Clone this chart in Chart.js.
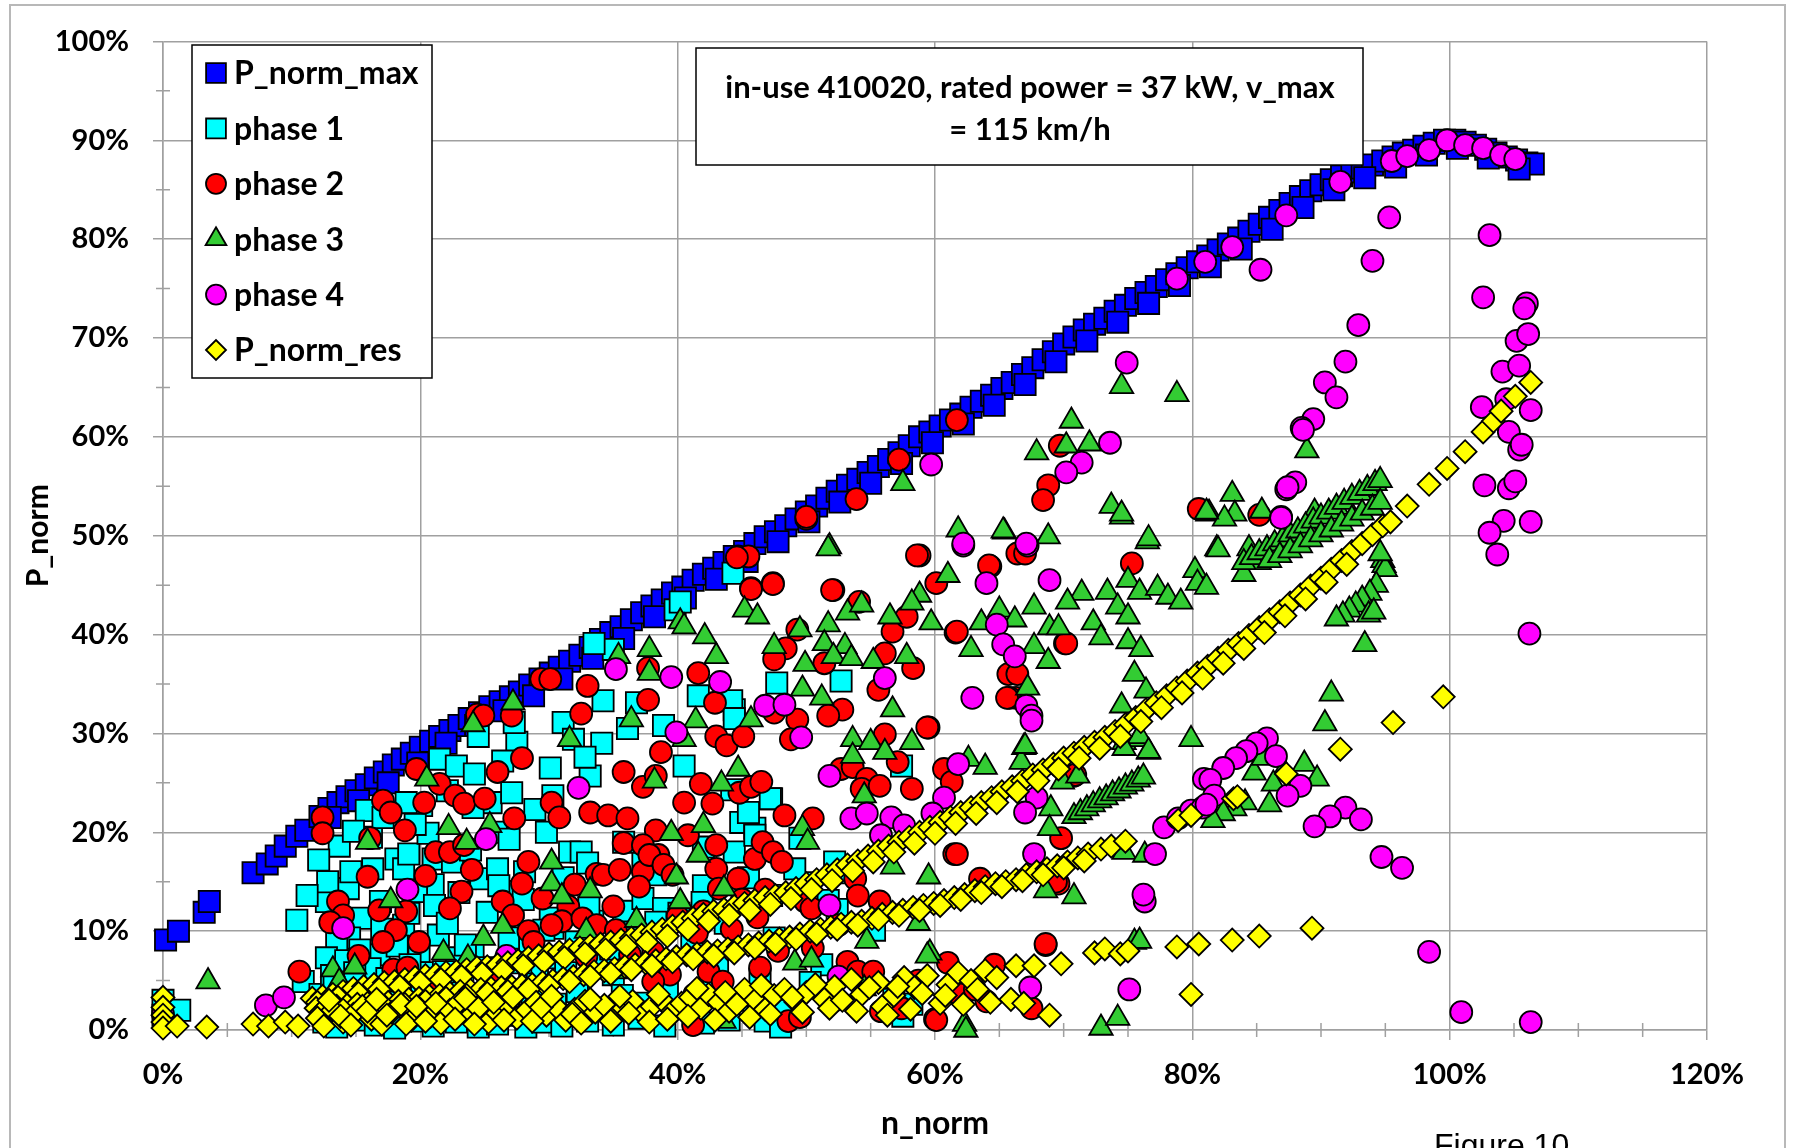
<!DOCTYPE html>
<html>
<head>
<meta charset="utf-8">
<script src="https://cdn.jsdelivr.net/npm/chart.js@4.4.1/dist/chart.umd.min.js"></script>
<style>
  body { margin: 0; background: #fff; }
  canvas { display: block; }
</style>
</head>
<body>
<canvas id="grafico" width="1793" height="1148"></canvas>
<script>
// Series de puntos [n_norm %, P_norm %]
const pNormMax = [
  [0.2,9.1],[1.2,10.0],[3.2,11.9],[3.6,13.0],[7.0,15.9],[8.1,16.8],[8.8,17.6],[9.5,18.6],[10.4,19.6],[11.1,20.2],
  [12.2,21.6],[12.9,22.4],[13.6,23.0],[14.3,23.6],[15.0,24.2],[15.8,24.8],[16.5,25.5],[17.2,26.1],[17.9,26.8],[18.6,27.4],
  [19.3,28.0],[20.0,28.6],[20.8,29.2],[21.5,29.7],[22.3,30.3],[23.0,30.8],[23.8,31.5],[24.6,32.1],[25.4,32.7],[26.2,33.2],
  [27.0,33.7],[27.7,34.2],[28.5,34.9],[29.3,35.5],[30.1,36.1],[30.8,36.7],[31.6,37.3],[32.4,37.9],[33.2,38.7],[34.0,39.5],
  [34.8,40.2],[35.6,40.8],[36.4,41.5],[37.2,42.2],[38.0,42.9],[38.8,43.5],[39.6,44.2],[40.4,44.8],[41.2,45.5],[42.0,46.1],
  [42.8,46.7],[43.6,47.3],[44.4,47.9],[45.2,48.4],[46.0,49.2],[46.8,49.9],[47.6,50.4],[48.4,51.0],[49.2,51.7],[50.0,52.4],
  [50.8,53.0],[51.6,53.8],[52.4,54.5],[53.2,55.1],[54.0,55.7],[54.8,56.4],[55.6,57.0],[56.4,57.7],[57.2,58.4],[58.0,59.1],
  [58.8,60.0],[59.6,60.5],[60.4,61.1],[61.2,61.7],[62.0,62.3],[62.8,63.0],[63.6,63.6],[64.4,64.2],[65.2,64.9],[66.0,65.5],
  [66.8,66.3],[67.6,67.0],[68.4,67.8],[69.2,68.6],[70.0,69.4],[70.8,70.1],[71.6,70.8],[72.4,71.4],[73.2,72.0],[74.0,72.7],
  [74.8,73.3],[75.6,74.0],[76.4,74.6],[77.2,75.2],[78.0,75.9],[78.8,76.5],[79.6,77.1],[80.4,77.7],[81.2,78.3],[82.0,78.9],
  [82.8,79.5],[83.6,80.1],[84.4,80.8],[85.2,81.5],[86.0,82.2],[86.8,82.9],[87.6,83.6],[88.4,84.3],[89.2,84.9],[90.0,85.5],
  [90.8,86.0],[91.6,86.4],[92.4,86.8],[93.2,87.2],[94.0,87.5],[94.8,87.9],[95.6,88.3],[96.4,88.7],[97.2,89.0],[98.0,89.4],
  [98.8,89.7],[99.6,90.0],[100.4,90.0],[101.2,89.8],[102.0,89.5],[102.8,89.1],[103.6,88.7],[104.4,88.3],[105.2,88.0],[106.0,87.7],
  [106.5,87.6],
  [13.0,21.5],[15.2,23.2],[17.5,25.0],[19.8,27.0],[22.0,29.0],[24.3,30.8],[26.5,32.3],[28.8,33.8],[31.0,35.5],[33.4,37.6],
  [35.8,39.6],[38.2,41.8],[40.6,43.7],[43.0,45.6],[45.4,47.4],[47.8,49.4],[50.2,51.4],[52.6,53.4],[55.0,55.3],[57.4,57.3],
  [59.8,59.4],[62.2,61.3],[64.6,63.2],[67.0,65.3],[69.4,67.6],[71.8,69.7],[74.2,71.6],[76.6,73.5],[79.0,75.3],[81.4,77.2],
  [83.8,79.0],[86.2,81.0],[88.6,83.2],[91.0,85.0],[93.4,86.2],[95.8,87.3],[98.2,88.5],[100.6,89.2],[103.0,88.2],[105.4,87.1]
];

const fase1 = [
  [39.8,42.5],[35.0,38.5],[36.8,33.1],[34.2,33.3],[31.1,31.1],[31.9,29.4],[38.9,30.8],[33.2,25.7],[30.3,23.7],[27.5,29.1],
  [27.3,31.1],[24.5,29.7],[21.5,27.4],[22.8,26.7],[24.2,25.9],[20.1,22.7],[15.8,22.2],[18.9,23.0],[25.5,23.0],[25.9,20.0],
  [26.9,19.3],[29.8,20.0],[31.6,18.0],[32.5,18.0],[18.1,17.3],[16.3,16.3],[18.7,16.3],[21.0,17.3],[22.5,17.0],[24.7,15.3],
  [26.0,16.3],[26.7,14.0],[28.1,16.0],[21.0,14.7],[19.7,14.0],[14.4,14.3],[12.7,13.0],[10.4,11.1],[15.5,11.3],[14.5,9.3],
  [13.5,8.9],[12.7,7.3],[18.7,10.6],[21.4,9.6],[16.8,7.6],[19.9,7.9],[22.8,7.3],[26.9,9.3],[28.5,8.3],[30.3,10.3],
  [30.1,11.3],[33.4,11.0],[35.8,12.0],[37.3,13.3],[38.9,12.3],[37.3,17.0],[35.8,19.0],[38.3,15.7],[10.9,4.9],[12.2,3.6],
  [15.5,4.2],[18.1,4.9],[23.3,4.9],[28.5,4.6],[35.0,5.6],[38.3,6.3],
  [44.3,46.2],[47.7,35.1],[52.7,35.3],[41.6,33.8],[44.4,32.4],[40.5,26.7],[47.3,23.4],[44.9,21.0],[46.0,20.4],[44.4,18.0],
  [42.0,14.6],[57.4,26.7],[47.5,9.3],[41.1,9.3],[52.2,17.0],[51.2,6.6],[46.8,0.9],[58.2,2.6],[43.1,6.3],
  [40.2,43.3],[33.5,39.1],[44.2,33.3],[44.4,31.5],[47.2,23.4],[49.5,19.4],[50.0,14.9],[51.7,13.1],[52.4,12.2],[44.2,24.3],
  [45.5,22.0],[46.0,19.7],[42.0,18.5],
  [13.1,5.5],[14.2,7.0],[15.3,8.1],[16.1,6.2],[17.0,10.2],[18.2,8.5],[19.1,11.8],[20.2,5.8],[21.1,12.6],[22.1,10.8],
  [23.0,13.9],[24.1,8.2],[25.2,11.9],[26.1,14.6],[27.2,12.4],[28.0,13.2],[29.1,5.9],[30.2,7.3],[31.1,15.4],[32.1,8.9],
  [33.0,16.9],[34.1,6.8],[16.2,19.5],[17.1,21.5],[24.1,22.5],[27.1,24.0],[30.1,26.5],[34.1,29.0],[36.1,30.5],[22.1,24.2],
  [19.1,17.8],[14.6,16.0],[13.7,18.6],[12.8,15.0],
  [12.4,2.5],[13.3,4.4],[14.1,2.1],[14.9,5.8],[15.8,3.3],[16.6,1.7],[17.4,5.2],[18.3,2.8],[19.2,6.6],[20.1,3.6],
  [20.9,1.8],[21.8,5.9],[22.6,3.1],[23.5,8.6],[24.4,2.4],[25.2,6.3],[26.1,4.0],[26.9,1.9],[27.8,6.8],[28.7,3.3],
  [29.6,10.1],[30.5,2.6],[31.3,5.8],[32.2,3.9],[33.1,12.4],[33.9,2.2],[34.8,8.2],[35.7,3.5],[36.6,9.9],[37.4,2.7],
  [38.3,10.9],[39.2,3.8],[40.1,11.8],[41.0,2.4],[41.9,12.9],[42.8,4.1],[43.7,10.8],[44.6,3.0],[45.5,15.4],[46.4,5.1],
  [47.3,13.6],[48.2,2.0],[49.1,16.3],[50.3,4.8],[53.4,15.9],[55.3,10.1],[56.8,3.1],[16.9,13.0],[20.6,19.9],[23.9,18.2],
  [28.9,22.3],[32.8,27.6],[26.4,27.2],[19.6,20.8],[14.8,20.1],[12.1,17.2],[11.2,13.6],
  [0.0,3.0],[0.0,1.5],[1.3,2.0],[12.5,0.8],[13.5,0.3],[15.0,1.0],[16.5,0.5],[18.0,0.2],[19.5,0.9],[21.0,0.4],
  [22.8,0.8],[24.5,0.3],[26.0,0.6],[27.7,1.5],[28.2,0.3],[29.5,0.8],[31.0,0.4],[33.0,0.9],[35.0,0.5],[37.0,1.2],
  [39.0,0.4],[42.0,0.7],[44.0,1.0],[48.0,0.3],[57.5,1.4]
];

const fase2 = [
  [29.4,35.5],[30.1,35.5],[33.0,34.8],[37.7,36.6],[37.7,33.4],[32.5,32.0],[27.1,31.8],[24.4,31.9],[24.9,31.8],[27.9,27.5],
  [26.0,26.1],[19.7,26.4],[21.5,24.9],[22.7,23.7],[23.4,22.9],[25.0,23.4],[20.3,23.0],[17.1,23.2],[17.7,22.0],[18.8,20.2],
  [12.4,21.5],[12.4,19.9],[16.1,19.4],[21.2,18.0],[22.3,18.0],[23.4,18.7],[27.3,21.4],[30.2,23.0],[30.8,21.5],[33.2,22.0],
  [34.6,21.7],[36.1,21.4],[35.8,26.1],[37.3,24.6],[38.7,28.1],[38.3,25.7],[38.3,20.2],[35.8,18.9],[37.3,18.7],[38.5,17.7],
  [28.4,17.0],[27.9,14.8],[26.4,13.0],[27.2,11.6],[23.2,14.0],[22.3,12.3],[18.9,12.0],[16.8,12.1],[15.9,15.5],[13.6,13.0],
  [14.0,11.6],[18.1,10.1],[17.1,8.9],[19.9,8.9],[32.0,14.7],[33.7,15.8],[34.2,15.7],[35.5,16.2],[37.3,16.0],[37.0,14.5],
  [37.8,17.7],[38.9,16.7],[39.6,15.7],[35.0,12.5],[31.5,12.5],[31.0,11.0],[30.2,10.6],[32.6,11.3],[33.7,10.6],[28.4,10.0],
  [28.8,8.9],[35.2,10.1],[38.1,7.9],[39.4,5.6],[38.1,4.9],[10.6,5.9],[17.9,6.1],[19.0,6.3],[33.4,1.9],
  [50.0,51.7],[44.7,47.9],[45.5,47.9],[45.7,44.7],[47.4,45.2],[52.1,44.5],[54.1,43.3],[58.8,48.0],[60.1,45.2],[64.3,46.9],
  [66.4,48.2],[67.0,48.2],[75.3,47.2],[70.1,39.1],[61.6,40.2],[56.7,40.3],[57.8,41.8],[49.3,40.5],[48.4,38.6],[47.5,37.5],
  [51.4,37.1],[56.1,38.1],[58.3,36.6],[55.6,34.4],[41.6,36.1],[42.9,33.1],[47.5,32.1],[49.3,31.4],[52.8,32.4],[51.7,31.8],
  [43.0,29.7],[43.8,28.8],[45.1,29.7],[48.8,29.4],[56.1,29.9],[59.5,30.6],[65.7,36.0],[66.3,33.6],[65.8,33.6],[41.8,24.9],
  [40.5,23.0],[42.7,22.9],[44.8,24.0],[45.7,24.6],[46.5,25.1],[48.3,21.7],[50.5,21.4],[52.7,26.4],[53.6,26.6],[54.7,25.4],
  [54.3,24.4],[55.7,24.7],[58.2,24.4],[57.1,27.1],[60.7,26.4],[61.3,25.1],[70.8,25.7],[40.8,19.7],[43.0,18.7],[43.0,16.3],
  [44.7,15.3],[46.0,17.3],[46.6,19.0],[47.4,18.0],[48.1,17.0],[49.9,13.0],[53.8,15.3],[54.0,13.6],[55.7,13.0],[52.5,10.6],
  [50.4,12.3],[61.5,17.8],[63.5,15.3],[69.6,14.8],[69.8,19.4],[68.6,8.6],[61.0,6.8],[64.6,6.6],[61.9,3.6],[63.1,4.1],
  [67.5,2.2],[60.0,1.1],[48.6,0.9],[53.2,6.9],[54.0,5.9],[46.4,6.3],[55.2,5.9],[42.4,5.9],[43.5,4.9],[41.3,3.6],
  [55.8,1.9],[57.4,2.2],
  [44.6,47.8],[50.0,51.9],[53.9,53.7],[57.2,57.7],[45.7,44.6],[47.4,45.1],[52.0,44.5],[58.6,48.0],[61.7,61.7],[69.7,59.1],
  [68.8,55.1],[68.4,53.6],[80.5,52.7],[85.2,52.1],
  [64.2,47.0],[61.7,40.3],[70.2,39.1],[66.4,36.0],[65.6,33.6],[59.4,30.6],[61.7,17.8],[70.9,25.8],[69.4,15.0],[68.6,8.7],
  [60.1,1.0],[41.2,0.5],[49.5,1.3],[42.0,12.0],[44.2,10.2],[46.2,11.4],[47.8,8.0],[45.0,13.2],[41.5,9.8],[43.2,14.3],
  [13.0,10.9],[15.2,7.5],[21.0,4.5],[25.8,5.2],[24.0,16.2],[20.4,15.6],[29.5,13.3],[32.9,7.4],[36.3,7.6],[40.0,11.5],
  [46.8,14.2],[50.5,8.3],[52.2,3.0],[58.7,5.0],[64.0,2.9]
];

const fase3 = [
  [40.2,41.3],[37.8,38.5],[37.8,36.1],[35.4,37.8],[36.4,31.4],[31.6,29.4],[27.2,33.1],[24.1,30.9],[20.5,25.4],[38.2,25.2],
  [22.2,20.5],[23.6,19.0],[15.9,19.0],[25.4,20.7],[39.5,19.9],[30.2,17.0],[30.2,14.8],[31.0,13.5],[33.2,14.1],[39.9,15.5],
  [40.2,13.0],[17.7,13.1],[26.4,10.5],[24.9,9.3],[32.9,10.0],[36.8,11.1],[21.8,7.8],[23.7,7.3],[13.2,6.1],[14.9,6.4],
  [3.5,4.9],[13.7,4.9],[35.5,5.9],
  [74.5,51.9],[61.8,50.6],[65.4,50.4],[68.8,49.9],[76.5,49.4],[51.8,48.9],[61.0,46.0],[71.4,44.2],[73.4,44.3],[75.0,45.5],
  [75.9,44.3],[77.3,44.7],[78.1,43.8],[79.1,43.3],[80.2,46.5],[80.4,45.2],[70.3,43.3],[67.7,42.8],[74.2,42.8],[75.0,41.8],
  [58.8,44.0],[58.2,43.2],[45.2,42.5],[46.2,41.8],[53.2,42.2],[54.3,43.0],[56.5,41.8],[59.7,41.2],[63.6,41.2],[65.0,42.5],
  [66.2,41.5],[72.3,41.2],[68.9,40.7],[69.6,40.7],[67.7,38.8],[68.8,37.3],[72.9,39.7],[75.0,39.3],[76.0,38.5],[62.8,38.5],
  [67.2,34.6],[75.5,36.0],[76.4,34.3],[49.5,40.5],[51.7,41.0],[47.5,38.8],[51.4,39.1],[53.0,38.8],[42.1,39.8],[43.0,37.8],
  [40.5,40.8],[49.9,37.0],[52.1,37.8],[53.5,37.6],[55.2,37.3],[57.8,37.8],[49.7,34.5],[51.2,33.6],[56.7,32.4],[45.7,31.4],
  [41.4,31.3],[40.5,29.4],[53.6,29.4],[55.0,29.1],[56.1,28.1],[58.2,29.1],[53.6,27.7],[44.7,26.4],[43.4,24.9],[66.9,28.6],
  [66.7,27.1],[62.6,27.4],[63.9,26.6],[74.5,32.8],[74.7,29.1],[75.8,29.4],[76.6,28.1],[79.9,29.4],[69.9,25.1],[71.1,25.7],
  [69.0,22.4],[68.9,20.4],[74.7,18.0],[76.3,17.7],[68.6,14.1],[70.8,13.5],[75.5,8.9],[72.9,0.2],[74.2,1.2],[42.0,20.7],
  [49.7,20.4],[50.1,19.0],[54.5,23.7],[56.7,16.5],[59.5,15.5],[58.7,10.8],[54.7,9.0],[43.6,14.3],[41.6,17.7],[49.1,6.8],
  [50.4,7.1],[54.5,4.2],[59.6,7.8],[43.6,0.9],[62.3,0.6],
  [74.5,65.1],[78.8,64.3],[70.6,61.6],[67.9,58.4],[70.2,59.1],[72.0,59.3],[88.9,58.6],[65.3,50.5],[73.7,53.0],[74.5,52.2],
  [76.6,49.7],[83.1,54.2],[81.2,52.2],[83.3,52.2],[85.4,52.5],[89.5,52.4],[57.5,55.3],[51.7,48.7],[81.9,48.7],[84.4,48.7],
  [81.3,52.3],[75.9,29.7],[74.7,28.5],[76.6,28.2],[67.0,28.7],[62.4,0.0],[59.4,7.5],[75.9,9.0],[82.5,51.7],[81.1,52.4],
  [82.0,48.6],[85.2,47.3],[84.0,46.1],[81.1,44.8],
  [84.0,47.3],[84.6,47.8],[85.2,48.3],[85.8,48.7],[86.4,49.2],[87.0,49.6],[87.6,50.1],[88.2,50.5],[88.8,51.0],[89.4,51.5],
  [90.0,51.9],[90.6,52.4],[91.2,52.9],[91.8,53.4],[92.4,53.9],[93.0,54.3],[93.6,54.8],[94.2,55.3],[94.6,55.6],
  [86.0,47.5],[86.8,48.0],[87.6,48.5],[88.4,49.0],[89.2,49.6],[90.0,50.1],[90.8,50.6],[91.6,51.2],[92.4,51.7],[93.2,52.3],
  [94.0,52.8],[94.6,53.4],
  [94.8,47.5],[94.9,47.0],[95.0,46.6],[94.6,48.2],[94.3,45.0],[93.8,44.2],[93.2,43.6],[92.7,43.0],[92.2,42.5],[91.7,42.0],
  [91.2,41.6],[93.7,42.0],[94.1,42.3],[93.4,39.0],[90.8,34.0],[90.3,31.0],
  [87.1,26.2],[88.7,26.9],[89.7,25.4],[84.8,26.0],[86.3,24.9],[84.1,23.0],[83.3,22.4],[82.4,21.9],[81.6,21.2],[85.5,27.5],
  [86.0,22.8],
  [70.8,21.6],[71.3,22.0],[71.8,22.4],[72.3,22.8],[72.8,23.2],[73.3,23.5],[73.8,23.9],[74.3,24.2],[74.8,24.6],[75.3,24.9],
  [75.8,25.3],[76.2,25.6]
];

const fase4 = [
  [0.0,1.6],[8.0,2.5],[9.4,3.3],[14.0,10.3],[19.0,14.2],[25.1,19.3],[26.7,7.5],[32.3,24.5],[35.2,36.5],[39.5,35.7],
  [39.9,30.1],[43.3,35.2],[46.8,32.8],[48.3,32.9],[49.6,29.6],[56.1,35.6],[62.2,49.0],[67.2,49.0],[64.0,45.2],[68.9,45.5],
  [62.9,33.6],[64.8,41.0],[65.3,39.0],[66.2,37.8],[67.1,32.8],[67.5,31.8],[67.5,31.3],[51.8,25.7],[61.8,26.9],[60.7,23.5],
  [59.8,21.9],[53.5,21.4],[54.7,21.9],[56.6,21.5],[57.6,20.7],[55.8,19.7],[67.9,23.5],[67.0,22.0],[67.7,17.8],[76.3,13.0],
  [75.1,4.1],[51.8,12.6],[52.5,5.4],[67.4,4.3],[77.1,17.8],[77.8,20.5],[78.9,21.4],[79.9,22.2],[80.8,22.5],[80.9,25.4],
  [59.7,57.2],[73.6,59.4],[71.4,57.4],[70.2,56.4],[74.9,67.5],[78.8,76.0],[81.0,77.7],[83.1,79.2],[87.3,82.4],[85.3,76.9],
  [91.5,85.8],[95.3,82.2],[94.0,77.8],[92.9,71.3],[91.9,67.6],[90.3,65.5],[91.2,64.0],[89.4,61.8],[88.5,60.9],[88.0,55.4],
  [87.3,54.7],[86.9,51.9],[95.5,87.9],[96.7,88.4],[98.4,89.0],[99.8,90.0],[62.2,49.2],[67.1,49.2],
  [101.2,89.5],[102.6,89.2],[104.0,88.5],[105.1,88.1],[103.1,80.4],[102.6,74.1],[106.0,73.5],[105.8,73.0],[105.2,69.7],[106.1,70.4],
  [104.1,66.6],[105.4,67.2],[102.5,63.0],[104.4,63.8],[106.3,62.7],[104.6,60.5],[105.4,58.7],[105.6,59.2],[102.7,55.1],[104.6,54.8],
  [105.1,55.5],[104.2,51.5],[106.3,51.4],[103.1,50.3],[103.7,48.1],[106.2,40.1],
  [88.6,60.7],[87.4,54.9],[86.9,51.8],
  [85.8,29.5],[85.0,29.0],[84.2,28.2],[83.4,27.5],[82.4,26.5],[81.4,25.3],[86.5,27.7],[88.4,24.7],[87.4,23.7],[81.7,23.7],
  [81.1,22.8],[91.9,22.5],[90.7,21.6],[89.5,20.6],[93.1,21.3],[94.7,17.5],[96.3,16.4],[98.4,7.9],[100.9,1.8],[106.3,0.8],
  [76.2,13.7]
];

const pNormRes = [
  [11.6,3.2],[12.4,3.4],[13.2,3.6],[14.0,3.9],[14.8,4.2],[15.6,4.4],[16.4,4.6],[17.2,4.8],[18.0,4.9],[18.8,5.1],
  [19.6,5.3],[20.4,5.5],[21.2,5.6],[22.0,5.8],[22.8,5.9],[23.6,6.1],[24.4,6.3],[25.2,6.4],[26.0,6.6],[26.8,6.8],
  [27.6,7.0],[28.4,7.3],[29.2,7.5],[30.0,7.7],[30.8,7.9],[31.6,8.1],[32.4,8.3],[33.2,8.5],[34.0,8.7],[34.8,8.9],
  [35.6,9.1],[36.4,9.3],[37.2,9.6],[38.0,9.9],[38.8,10.2],[39.6,10.5],[40.4,10.9],[41.2,11.3],[42.0,11.7],[42.8,12.0],
  [43.6,12.2],[44.4,12.5],[45.2,12.8],[46.0,13.1],[46.8,13.4],[47.6,13.6],[48.4,13.9],[49.2,14.3],[50.0,14.8],[50.8,15.2],
  [51.6,15.7],[52.4,16.2],[53.2,16.7],[54.0,17.1],[54.8,17.6],[55.6,18.1],[56.4,18.6],[57.2,19.0],[58.0,19.5],[58.8,20.0],
  [59.6,20.5],[60.4,21.0],[61.2,21.5],[62.0,22.0],[62.8,22.5],[63.6,23.0],[64.4,23.5],[65.2,24.1],[66.0,24.6],[66.8,25.2],
  [67.6,25.8],[68.4,26.3],[69.2,26.9],[70.0,27.5],[70.8,28.0],[71.6,28.6],[72.4,29.1],[73.2,29.6],[74.0,30.2],[74.8,30.9],
  [75.6,31.6],[76.4,32.4],[77.2,33.1],[78.0,33.8],[78.8,34.6],[79.6,35.3],[80.4,36.1],[81.2,36.8],[82.0,37.6],[82.8,38.4],
  [83.6,39.1],[84.4,39.9],[85.2,40.7],[86.0,41.5],[86.8,42.3],[87.6,43.2],[88.4,44.0],[89.2,44.9],[90.0,45.7],[90.8,46.6],
  [91.6,47.5],[92.4,48.4],[93.2,49.2],[94.0,50.1],[94.8,51.0],[95.4,51.4],[96.7,53.0],[98.4,55.2],[99.8,56.8],[101.2,58.5],
  [102.6,60.5],[103.4,61.6],[104.0,62.6],[105.1,64.1],[106.3,65.5],
  [12.0,2.8],[13.6,3.3],[15.2,3.7],[16.8,4.1],[18.4,4.4],[20.0,4.8],[21.6,5.1],[23.2,5.4],[24.8,5.7],[26.4,6.0],
  [28.0,6.5],[29.6,6.9],[31.2,7.3],[32.8,7.7],[34.4,8.1],[36.0,8.5],[37.6,8.9],[39.2,9.5],[40.8,10.2],[42.4,11.0],
  [44.0,11.6],[45.6,12.1],[47.2,12.7],[48.8,13.3],[50.4,14.2],[52.0,15.1],[53.6,16.1],[55.2,17.0],[56.8,18.0],[58.4,18.9],
  [60.0,19.9],[61.6,20.9],[63.2,21.9],[64.8,23.0],[66.4,24.1],[68.0,25.2],[69.6,26.4],[71.2,27.5],[72.8,28.5],[74.4,29.7],
  [76.0,31.2],[77.6,32.6],[79.2,34.1],[80.8,35.6],[82.4,37.1],[84.0,38.6],[85.6,40.2],[87.2,41.9],[88.8,43.6],[90.4,45.3],
  [92.0,47.1],
  [11.9,2.2],[12.7,2.3],[13.5,2.4],[14.3,2.5],[15.1,2.6],[15.9,2.7],[16.7,2.8],[17.5,2.8],[18.3,2.9],[19.1,3.1],
  [19.9,3.2],[20.7,3.4],[21.5,3.5],[22.3,3.7],[23.1,3.9],[23.9,4.0],[24.7,4.1],[25.5,4.2],[26.3,4.3],[27.1,4.4],
  [27.9,4.5],[28.7,4.6],[29.5,4.8],[30.3,5.0],[31.1,5.2],[31.9,5.4],[32.7,5.6],[33.5,5.9],[34.3,6.0],[35.1,6.2],
  [35.9,6.4],[36.7,6.6],[37.5,6.8],[38.3,7.0],[39.1,7.2],[39.9,7.4],[40.7,7.6],[41.5,7.7],[42.3,7.9],[43.1,8.0],
  [43.9,8.2],[44.7,8.4],[45.5,8.6],[46.3,8.8],[47.1,9.0],[47.9,9.2],[48.7,9.4],[49.5,9.7],[50.3,10.0],[51.1,10.2],
  [51.9,10.4],[52.7,10.7],[53.5,10.9],[54.3,11.0],[55.1,11.3],[55.9,11.7],[56.7,11.9],[57.5,12.1],[58.3,12.4],[59.1,12.6],
  [59.9,12.8],[60.7,13.1],[61.5,13.4],[62.3,13.7],[63.1,14.1],[63.9,14.5],[64.7,14.8],[65.5,15.0],[66.3,15.2],[67.1,15.7],
  [67.9,16.0],[68.7,16.3],[69.5,16.6],[70.3,17.0],[71.1,17.4],[71.9,17.8],[72.9,18.3],[73.7,18.6],[74.8,19.1],[78.9,21.2],
  [79.9,21.7],[83.2,23.4],[83.5,23.6],[87.3,25.9],[91.5,28.4],[95.6,31.1],[99.5,33.7],
  [12.3,1.8],[14.0,2.0],[15.6,2.2],[17.2,2.4],[18.8,2.6],[20.4,2.9],[22.0,3.2],[23.6,3.5],[25.2,3.7],[26.8,3.9],
  [28.4,4.1],[30.0,4.5],[31.6,4.9],[33.2,5.4],[34.8,5.7],[36.4,6.1],[38.0,6.5],[39.6,6.9],[41.2,7.2],[42.8,7.5],
  [44.4,7.8],[46.0,8.3],[47.6,8.7],[49.2,9.2],[50.8,9.7],[52.4,10.2],[54.0,10.6],[55.6,11.2],[57.2,11.6],[58.8,12.1],
  [60.4,12.6],[62.0,13.2],[63.6,13.9],[65.2,14.5],[66.8,15.1],[68.4,15.7],[70.0,16.4],[71.6,17.1],
  [12.0,1.2],[12.5,0.4],[13.2,2.0],[14.0,0.8],[14.8,1.6],[15.5,2.4],[16.2,1.1],[17.0,0.6],[17.8,1.8],[18.5,2.6],
  [19.3,1.0],[20.0,2.1],[20.8,1.4],[21.6,0.7],[22.3,2.0],[23.0,2.8],[23.8,1.3],[24.5,2.2],[25.3,0.8],[26.0,1.7],
  [26.8,2.5],[27.5,1.2],[28.3,2.0],[29.0,2.8],[29.8,1.5],[30.6,2.3],[31.3,1.0],[32.0,2.1],[32.8,2.9],[33.6,1.8],
  [34.3,2.5],[35.0,1.2],[35.8,2.2],[36.5,2.9],[37.3,1.6],[38.0,2.4],[38.8,3.0],[39.6,1.9],[40.3,2.7],[41.0,3.3],
  [41.8,2.2],[42.4,3.6],[43.2,2.8],[44.0,1.9],[45.2,4.1],[46.0,3.0],[46.8,2.1],[47.5,3.5],[48.3,4.1],[49.2,2.8],
  [50.0,3.8],[51.4,3.1],[52.2,4.4],[53.5,5.1],[54.3,3.6],[55.6,4.8],[55.9,2.4],[56.8,3.5],[57.6,5.3],[58.4,4.3],
  [59.4,5.5],[60.4,2.7],[61.0,4.6],[61.8,5.8],[62.8,5.0],[63.9,6.0],[64.8,5.3],[65.9,3.1],[66.3,6.5],[66.9,2.7],
  [67.7,6.5],[68.9,1.5],[69.8,6.7],[72.4,7.8],[73.2,8.2],[74.4,7.7],[75.0,8.0],[78.8,8.4],[79.9,3.6],[80.5,8.7],
  [83.1,9.1],[85.2,9.5],[89.3,10.3],
  [12.9,3.0],[13.8,1.4],[14.6,0.5],[15.9,1.9],[16.6,3.1],[17.4,1.5],[18.9,0.6],[19.7,2.4],[20.4,0.9],[21.2,2.7],
  [22.7,1.1],[23.5,3.2],[24.2,0.6],[25.7,2.8],[26.5,1.0],[27.2,3.3],[28.7,0.9],[29.4,2.3],[30.2,3.4],[31.8,1.6],
  [32.5,0.7],[33.2,3.1],[34.8,0.9],[35.5,3.4],[36.2,1.7],[37.8,0.8],[38.5,3.6],[39.2,1.1],[40.8,1.4],[41.5,4.2],
  [42.9,1.0],[43.7,3.8],[44.6,2.6],[45.6,1.3],[46.5,4.5],[47.2,1.6],[48.9,3.3],[49.7,1.8],[50.7,4.6],[51.8,2.2],
  [52.8,3.0],[53.9,1.9],[54.9,4.3],[56.3,1.5],[57.1,4.4],[58.1,2.1],[59.0,3.7],[60.8,3.5],[62.2,2.6],[63.3,4.1],
  [64.3,2.8],
  [0.0,3.3],[0.0,2.3],[0.0,1.5],[0.0,0.8],[0.0,0.2],[1.1,0.4],[3.4,0.3],[7.0,0.6],[8.2,0.4],[9.5,0.8],[10.5,0.4]
];

const nombres = ['P_norm_max', 'phase 1', 'phase 2', 'phase 3', 'phase 4', 'P_norm_res'];
const ticksX = [0, 20, 40, 60, 80, 100, 120];
const ticksY = [0, 10, 20, 30, 40, 50, 60, 70, 80, 90, 100];
const nota = ['in-use 410020, rated power = 37 kW, v_max', '= 115 km/h'];

const fuente = 'Lato';
const gris = '#a0a0a0';
const borde = 1.8;

const aPuntos = arr => arr.map(p => ({ x: p[0], y: p[1] }));

function serie(i, datos, color, estilo, radio, orden) {
  return {
    label: nombres[i],
    data: aPuntos(datos),
    backgroundColor: color,
    borderColor: '#000',
    borderWidth: borde,
    pointStyle: estilo,
    pointRadius: radio,
    pointHoverRadius: radio,
    showLine: false,
    clip: false,
    order: orden
  };
}

// Marcas menores, recuadros de leyenda y nota, marco exterior
const decoracion = {
  id: 'decoracion',
  beforeDraw(chart) {
    const c = chart.ctx;
    c.save();
    c.fillStyle = '#fff';
    c.fillRect(0, 0, chart.width, chart.height);
    c.strokeStyle = '#b8b8b8';
    c.lineWidth = 2;
    c.strokeRect(10, 5, 1775, 1170);
    c.restore();
  },
  beforeDatasetsDraw(chart) {
    const c = chart.ctx, sx = chart.scales.x, sy = chart.scales.y;
    c.save();
    c.strokeStyle = gris;
    c.lineWidth = 1.5;
    c.beginPath();
    for (let v = 5; v < 120; v += 5) {
      if (v % 20 === 0) continue;
      const px = sx.getPixelForValue(v);
      c.moveTo(px, sy.bottom - 7);
      c.lineTo(px, sy.bottom + 7);
    }
    for (let v = 5; v < 100; v += 10) {
      const py = sy.getPixelForValue(v);
      c.moveTo(sx.left - 7, py);
      c.lineTo(sx.left + 7, py);
    }
    c.stroke();
    c.restore();
  },
  afterDraw(chart) {
    const c = chart.ctx;
    c.save();
    // leyenda
    c.fillStyle = '#fff';
    c.fillRect(192, 45, 240, 333);
    c.strokeStyle = '#000';
    c.lineWidth = 1.5;
    c.strokeRect(192, 45, 240, 333);
    const leyendaRadio = [14, 14, 10, 12, 10, 10];
    chart.data.datasets.forEach((ds, i) => {
      const y = 73 + i * 55.4;
      c.fillStyle = ds.backgroundColor;
      c.strokeStyle = '#000';
      c.lineWidth = borde;
      Chart.helpers.drawPoint(c, { pointStyle: ds.pointStyle, radius: leyendaRadio[i], borderWidth: borde, rotation: 0 }, 216, y);
      c.fillStyle = '#000';
      c.font = 'bold 32px ' + fuente;
      c.textBaseline = 'middle';
      c.textAlign = 'left';
      c.fillText(ds.label, 234, y + 1);
    });
    // nota
    c.fillStyle = '#fff';
    c.fillRect(696, 48, 667, 117);
    c.strokeStyle = '#000';
    c.lineWidth = 1.5;
    c.strokeRect(696, 48, 667, 117);
    c.fillStyle = '#000';
    c.font = 'bold 31px ' + fuente;
    c.textAlign = 'center';
    c.textBaseline = 'middle';
    c.fillText(nota[0], 1030, 88);
    c.fillText(nota[1], 1030, 130);
    // pie de figura
    c.font = '32px "Liberation Sans"';
    c.textAlign = 'left';
    c.textBaseline = 'top';
    c.fillText('Figure 10', 1434, 1131);
    c.restore();
  }
};

const ctx = document.getElementById('grafico').getContext('2d');
const grafico = new Chart(ctx, {
  type: 'scatter',
  data: {
    datasets: [
      serie(0, pNormMax, '#0000ff', 'rect', 15, 5),
      serie(1, fase1, '#00ffff', 'rect', 15, 4),
      serie(2, fase2, '#ff0000', 'circle', 11, 3),
      serie(3, fase3, '#33cc33', 'triangle', 13.5, 2),
      serie(4, fase4, '#ff00ff', 'circle', 11, 1),
      serie(5, pNormRes, '#ffff00', 'rectRot', 11.5, 0)
    ]
  },
  options: {
    responsive: false,
    animation: false,
    devicePixelRatio: 1,
    layout: { padding: { top: 38, right: 86, bottom: 0, left: 0 } },
    plugins: {
      legend: { display: false },
      tooltip: { enabled: false }
    },
    scales: {
      x: {
        type: 'linear',
        min: 0,
        max: 120,
        afterBuildTicks: s => { s.ticks = ticksX.map(v => ({ value: v })); },
        afterFit: s => { s.height = 118; },
        ticks: {
          callback: v => v + '%',
          color: '#000',
          font: { family: fuente, size: 29, weight: 'bold' },
          padding: 17,
          maxRotation: 0
        },
        grid: { color: gris, lineWidth: 1.5, tickLength: 10 },
        border: { color: gris, width: 1.5 },
        title: {
          display: true,
          text: 'n_norm',
          color: '#000',
          font: { family: fuente, size: 32, weight: 'bold' },
          padding: { top: 0, bottom: 5 }
        }
      },
      y: {
        type: 'linear',
        min: 0,
        max: 100,
        afterBuildTicks: s => { s.ticks = ticksY.map(v => ({ value: v })); },
        afterFit: s => { s.width = 163; },
        ticks: {
          callback: v => v + '%',
          color: '#000',
          font: { family: fuente, size: 29, weight: 'bold' },
          padding: 24
        },
        grid: { color: gris, lineWidth: 1.5, tickLength: 10 },
        border: { color: gris, width: 1.5 },
        title: {
          display: true,
          text: 'P_norm',
          color: '#000',
          font: { family: fuente, size: 30, weight: 'bold' },
          padding: { top: 20, bottom: 0 }
        }
      }
    }
  },
  plugins: [decoracion]
});
</script>
</body>
</html>
